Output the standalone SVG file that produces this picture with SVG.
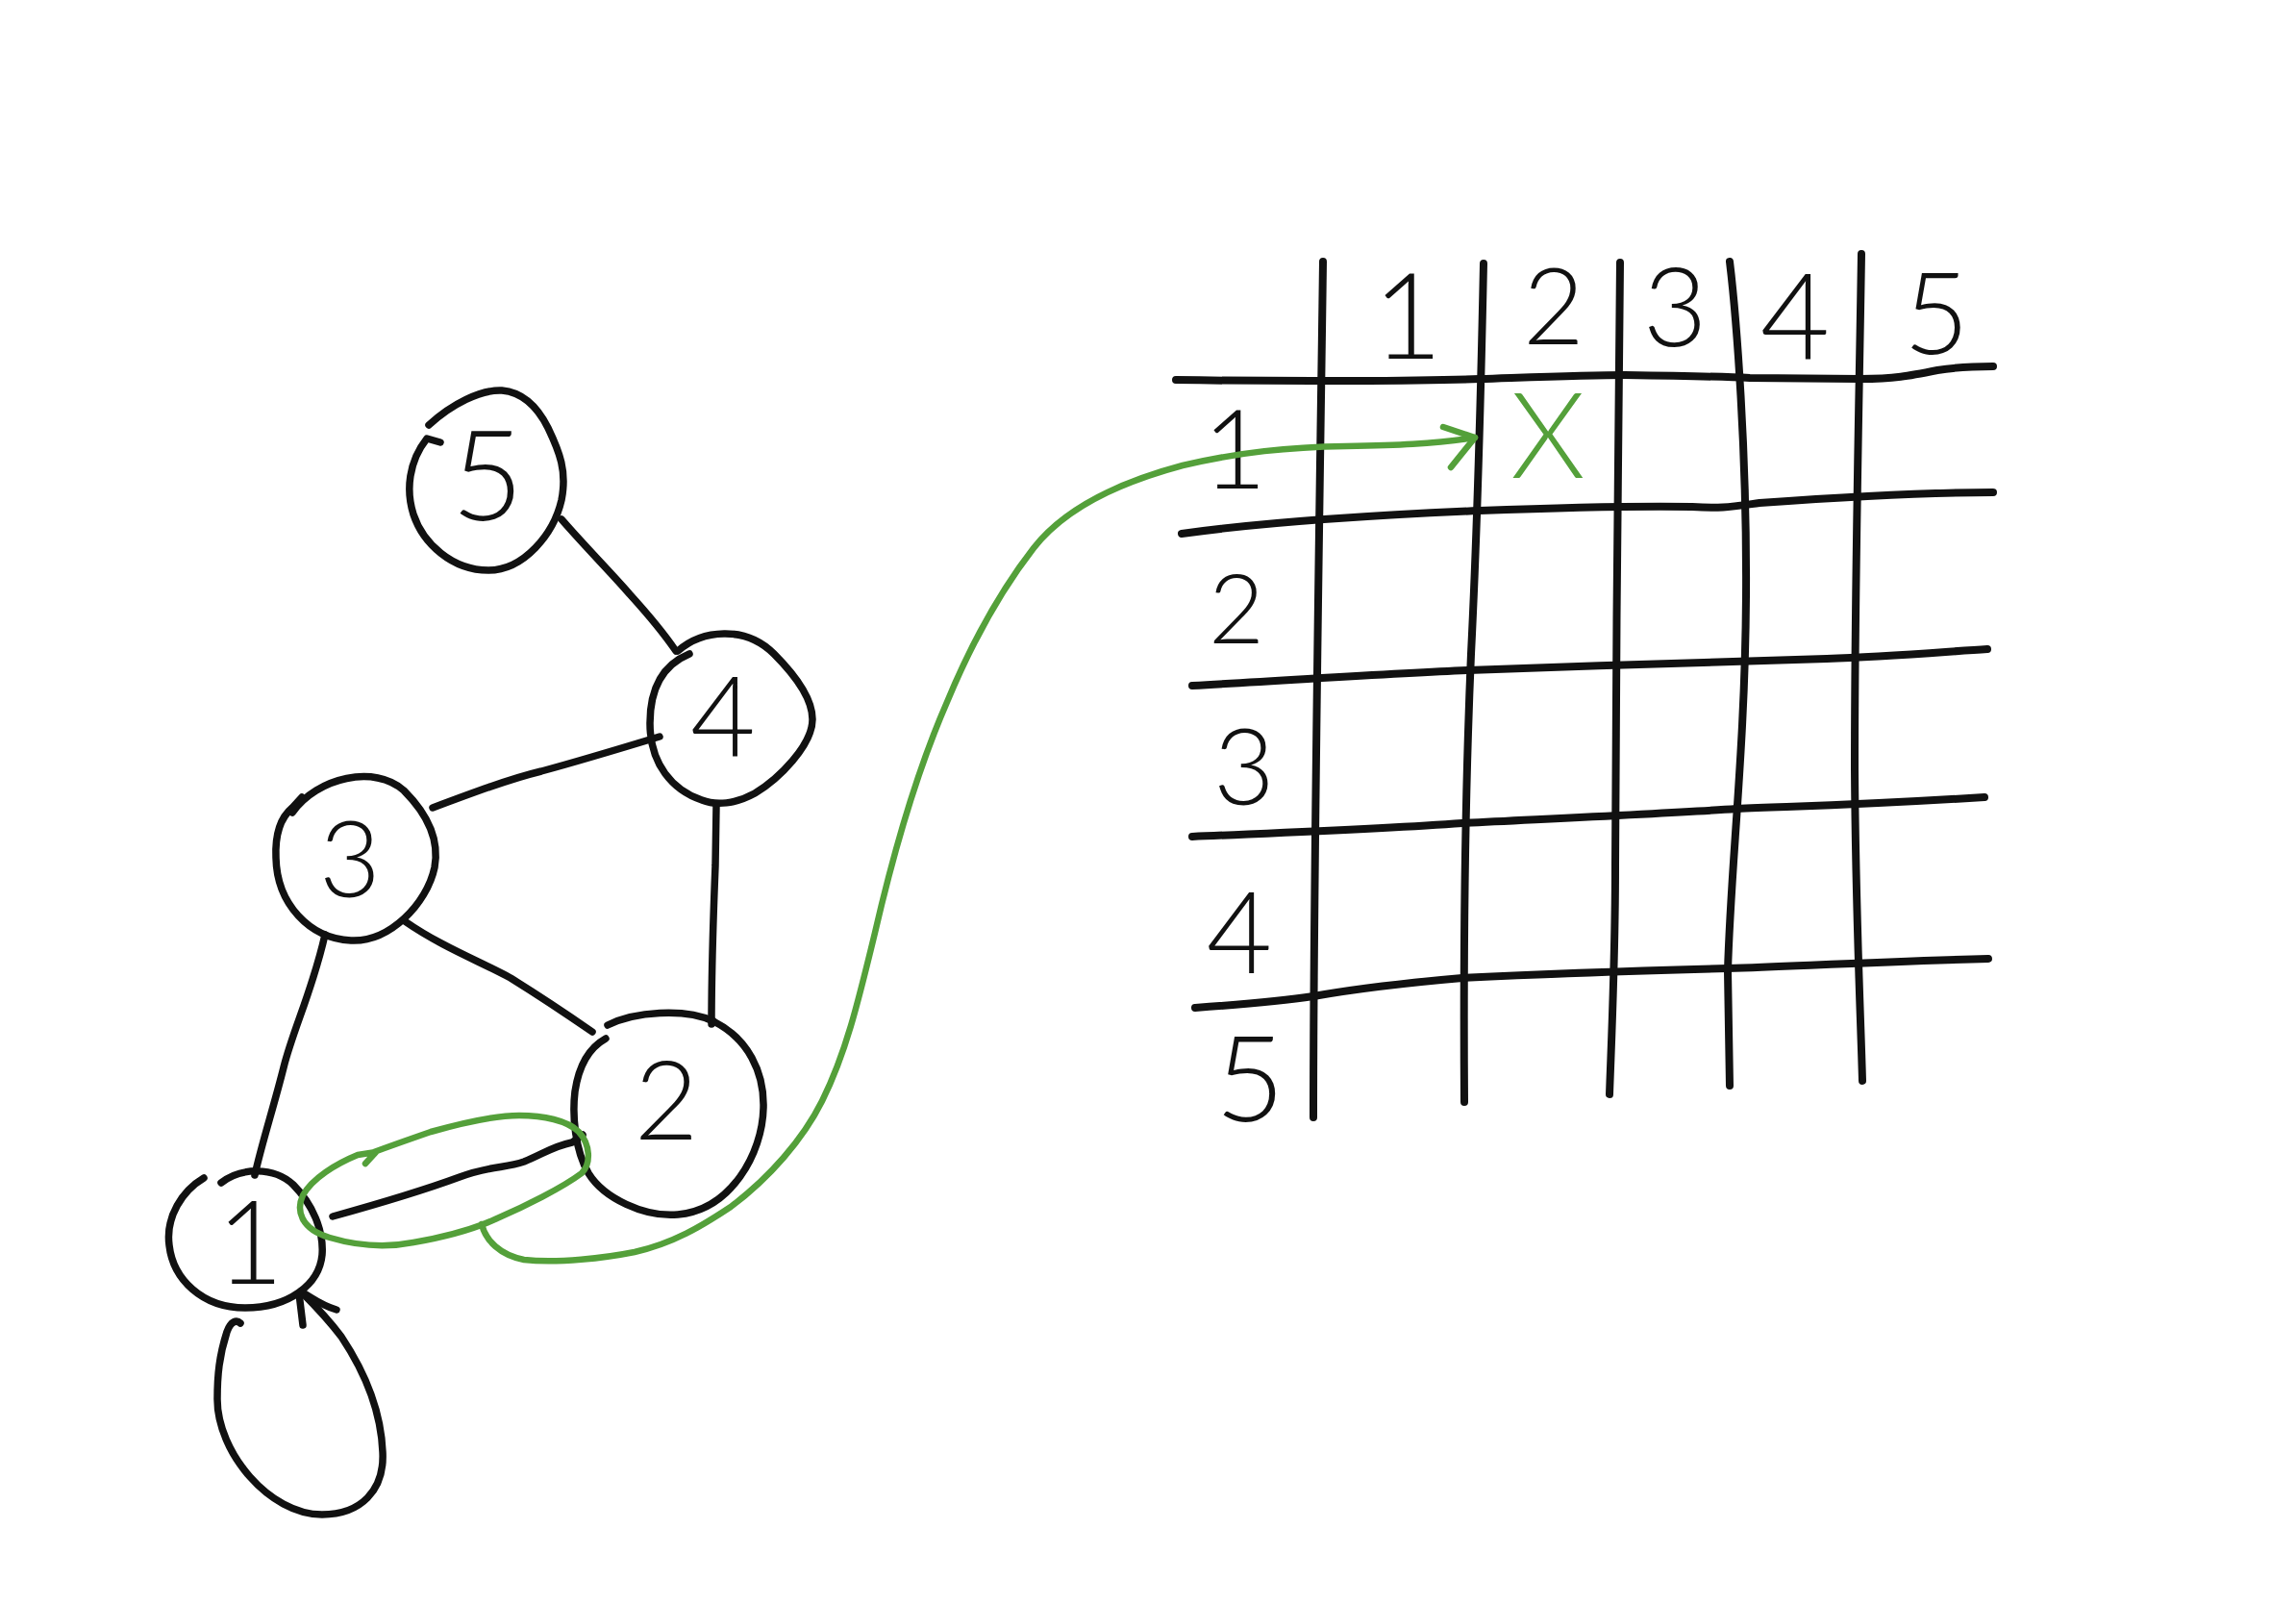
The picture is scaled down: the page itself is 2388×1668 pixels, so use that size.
<svg xmlns="http://www.w3.org/2000/svg" width="2388" height="1668" viewBox="0 0 2388 1668">
  <style>
    .ink { fill: none; stroke: #111; stroke-width: 7.5; stroke-linecap: round; stroke-linejoin: round; }
    .grid { fill: none; stroke: #111; stroke-width: 8; stroke-linecap: round; stroke-linejoin: round; }
    .hl { fill: none; stroke: #54a03a; stroke-width: 6.5; stroke-linecap: round; stroke-linejoin: round; }
    .lbl { font-family: Lato, "Open Sans", "Liberation Sans", sans-serif; font-weight: 300; fill: #111; text-anchor: middle; }
    .mark { font-family: Lato, "Open Sans", "Liberation Sans", sans-serif; font-weight: 300; fill: #54a03a; text-anchor: middle; }
  </style>
  <rect width="2388" height="1668" fill="#ffffff"/>

  <!-- graph edges -->
  <g id="connectors">
    <path class="ink" d="M 584 540 C 610 570 638 598 655 618 C 675 640 690 658 703 677"/>
    <path class="ink" d="M 450 840 C 490 825 530 810 563 802 C 600 792 640 780 686 766"/>
    <path class="ink" d="M 745 838 L 744 900 C 742 950 740 1000 740 1065"/>
    <path class="ink" d="M 421 958 C 460 985 500 1000 531 1017 C 560 1035 590 1055 616 1073"/>
    <path class="ink" d="M 338 972 C 325 1030 305 1070 295 1110 C 285 1150 272 1190 265 1222"/>
    <path class="ink" d="M 346 1265 C 400 1250 440 1238 478 1224 C 510 1212 525 1215 545 1208 C 565 1200 575 1192 595 1188 L 606 1180"/>
    <!-- self loop on node 1 -->
    <path class="ink" d="M 250 1376 C 246 1372 240 1374 236 1385 C 228 1410 226 1430 226 1455 C 226 1510 280 1575 335 1575 C 375 1575 400 1550 398 1510 C 396 1460 375 1420 355 1390 C 340 1370 325 1355 313 1343"/>
    <path class="ink" d="M 315 1378 L 311 1345 M 350 1362 C 335 1358 325 1350 313 1343"/>
  </g>

  <!-- nodes -->
  <g id="node-5">
    <path class="ink" d="M 446 442 C 470 420 500 405 522 406 C 545 408 560 425 570 445 C 582 470 590 490 584 520 C 576 555 545 593 508 593 C 470 593 440 565 430 535 C 422 510 425 480 444 456 L 458 460"/>
    <text class="lbl" x="507" y="541" font-size="130">5</text>
  </g>
  <g id="node-4">
    <path class="ink" d="M 705 677 C 730 655 775 650 805 680 C 825 700 845 725 845 748 C 845 775 810 810 785 825 C 765 836 745 838 730 832 C 700 822 676 795 676 752 C 676 718 688 692 717 680"/>
    <text class="lbl" x="752" y="787" font-size="117">4</text>
  </g>
  <g id="node-3">
    <path class="ink" d="M 304 845 C 330 808 390 795 420 822 C 440 842 458 870 452 902 C 444 940 405 980 365 978 C 322 976 288 940 287 892 C 286 868 292 850 304 840 L 314 829"/>
    <text class="lbl" x="364" y="933" font-size="110">3</text>
  </g>
  <g id="node-2">
    <path class="ink" d="M 632 1066 C 660 1052 712 1048 742 1062"/>
    <path class="ink" d="M 742 1062 C 778 1080 795 1115 794 1152 C 793 1200 760 1258 705 1263 C 670 1266 628 1246 612 1220 C 598 1196 595 1160 598 1135 C 602 1108 612 1090 630 1080"/>
    <text class="lbl" x="693" y="1185" font-size="115">2</text>
  </g>
  <g id="node-1">
    <path class="ink" d="M 230 1230 C 250 1214 285 1213 305 1232 C 325 1252 337 1280 335 1305 C 332 1336 300 1360 255 1360 C 210 1360 180 1330 176 1295 C 172 1265 190 1238 212 1225"/>
    <text class="lbl" x="260" y="1335" font-size="120">1</text>
  </g>

  <!-- adjacency matrix -->
  <g id="matrix">
    <path class="grid" d="M 1376 272 C 1373 500 1366 900 1366 1162"/>
    <path class="grid" d="M 1543 274 C 1540 420 1536 560 1530 680 C 1524 820 1522 1000 1523 1146"/>
    <path class="grid" d="M 1685 273 C 1684 450 1680 700 1680 900 C 1680 1000 1676 1080 1674 1138"/>
    <path class="grid" d="M 1799 272 C 1806 330 1817 470 1816 620 C 1815 780 1800 900 1797 1010 L 1799 1129"/>
    <path class="grid" d="M 1936 264 C 1934 400 1929 600 1929 800 C 1930 950 1935 1050 1937 1124"/>

    <path class="grid" d="M 1223 395 C 1350 397 1480 396 1539 394 C 1600 392 1650 390 1690 390 C 1760 391 1800 392 1820 393 L 1935 394 C 1970 394 1985 391 2015 385 C 2040 381 2055 381 2073 381"/>
    <path class="grid" d="M 1229 555 C 1300 545 1400 537 1539 531 C 1620 528 1700 526 1760 527 C 1790 529 1800 527 1830 523 C 1900 518 2000 512 2073 512"/>
    <path class="grid" d="M 1240 713 C 1350 707 1450 700 1527 697 C 1650 692 1800 689 1900 685 C 1960 683 2020 678 2067 675"/>
    <path class="grid" d="M 1240 870 C 1330 866 1440 862 1521 856 C 1620 851 1750 845 1806 841 C 1880 838 1940 837 2064 829"/>
    <path class="grid" d="M 1243 1048 C 1300 1044 1340 1040 1366 1036 C 1400 1030 1440 1024 1521 1017 C 1620 1012 1720 1009 1797 1007 C 1880 1004 1960 1000 2068 997"/>

    <text class="lbl" x="1464" y="373" font-size="125">1</text>
    <text class="lbl" x="1616" y="358" font-size="110">2</text>
    <text class="lbl" x="1742" y="360" font-size="115">3</text>
    <text class="lbl" x="1867" y="373" font-size="125">4</text>
    <text class="lbl" x="2014" y="368" font-size="118">5</text>

    <text class="lbl" x="1284" y="508" font-size="115">1</text>
    <text class="lbl" x="1286" y="669" font-size="100">2</text>
    <text class="lbl" x="1294" y="837" font-size="110">3</text>
    <text class="lbl" x="1289" y="1012" font-size="118">4</text>
    <text class="lbl" x="1300" y="1166" font-size="125">5</text>

    <text class="mark" x="1610" y="497" font-size="125">X</text>
  </g>

  <!-- highlight: edge 1-2 traced into the matrix cell -->
  <g id="highlight">
    <path class="hl" d="M 380 1210 L 391 1198 L 372 1201 C 350 1210 325 1225 315 1243 C 308 1258 312 1278 343 1287 C 370 1295 400 1298 430 1292 C 470 1285 500 1275 517 1267 C 545 1255 585 1235 605 1220 C 615 1210 614 1190 602 1177 C 590 1165 565 1160 540 1160 C 515 1160 480 1168 448 1177 C 425 1185 405 1192 389 1198"/>
    <path class="hl" d="M 501 1273 C 505 1290 520 1305 545 1310 C 580 1314 630 1308 660 1302 C 700 1293 730 1275 760 1255 C 800 1225 835 1185 855 1145 C 880 1095 893 1040 910 970 C 925 905 950 810 985 730 C 1010 670 1040 615 1075 570 C 1110 525 1170 500 1230 484 C 1290 470 1340 465 1400 464 C 1450 463 1490 462 1534 455"/>
    <path class="hl" d="M 1501 444 L 1534 455 L 1509 486"/>
  </g>
</svg>
